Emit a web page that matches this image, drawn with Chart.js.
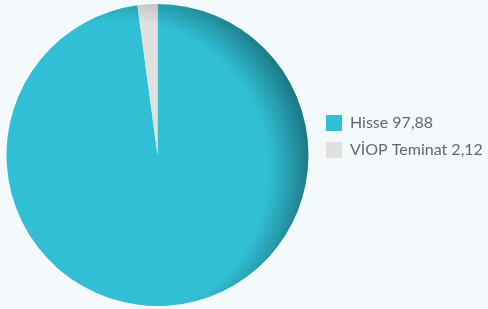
<!DOCTYPE html>
<html>
<head>
<meta charset="utf-8">
<script src="https://cdn.jsdelivr.net/npm/chart.js@4/dist/chart.umd.min.js"></script>
<style>
  html, body { margin: 0; padding: 0; background: #f4f9fc; }
  #wrap { width: 488px; height: 309px; background: #f4f9fc; }
</style>
</head>
<body>
<div id="wrap"><canvas id="c" width="488" height="309"></canvas></div>
<script>
// ---- data ----
const categories = ['Hisse', 'VİOP Teminat'];
const values = [97.88, 2.12];

// ---- styles ----
const flatColors = ['#30bfd4', '#e0e0e0'];
const darkColors = ['#1d7b88', '#a9a9a9'];

function fmt(v) { return v.toFixed(2).replace('.', ','); }

function shaded(ctx) {
  const i = ctx.dataIndex;
  const chart = ctx.chart;
  const a = chart.chartArea;
  if (!a) return flatColors[i];
  const cx = (a.left + a.right) / 2, cy = (a.top + a.bottom) / 2;
  const R = Math.min(a.right - a.left, a.bottom - a.top) / 2;
  const gx = cx - 0.25 * R, gy = cy + 0.1 * R;
  const g = chart.ctx.createRadialGradient(gx, gy, 0, gx, gy, 1.25 * R);
  g.addColorStop(0, flatColors[i]);
  g.addColorStop(0.79, flatColors[i]);
  g.addColorStop(0.9, mix(flatColors[i], darkColors[i], 0.5));
  g.addColorStop(1, darkColors[i]);
  return g;
}
function mix(c1, c2, t) {
  const p = c => [1,3,5].map(k => parseInt(c.substr(k,2),16));
  const a = p(c1), b = p(c2);
  return 'rgb(' + a.map((v,k) => Math.round(v + (b[k]-v)*t)).join(',') + ')';
}

const legendWidthPlugin = {
  id: 'legendWidth',
  beforeUpdate(chart) {
    const lg = chart.legend;
    if (lg && !lg._patched) {
      const orig = lg.fit;
      lg.fit = function () { orig.call(this); this.width = 173; };
      lg._patched = true;
    }
  }
};

new Chart(document.getElementById('c'), {
  type: 'pie',
  data: {
    labels: categories,
    datasets: [{
      data: values,
      backgroundColor: shaded,
      borderWidth: 0,
      hoverOffset: 0
    }]
  },
  options: {
    responsive: false,
    devicePixelRatio: 1,
    animation: false,
    events: [],
    layout: { padding: { left: -3, top: 4, bottom: 3, right: 0 } },
    plugins: {
      tooltip: { enabled: false },
      legend: {
        position: 'right',
        align: 'start',
        title: { display: true, text: '', padding: { top: 85.6, bottom: 0 } },
        labels: {
          boxWidth: 16,
          boxHeight: 16,
          padding: 11,
          color: '#555555',
          font: { family: 'Lato', size: 16 },
          generateLabels: () => categories.map((c, i) => ({
            text: c + ' ' + fmt(values[i]),
            fillStyle: flatColors[i],
            strokeStyle: flatColors[i],
            lineWidth: 0,
            hidden: false,
            index: i
          }))
        }
      }
    }
  },
  plugins: [legendWidthPlugin]
});
</script>
</body>
</html>
